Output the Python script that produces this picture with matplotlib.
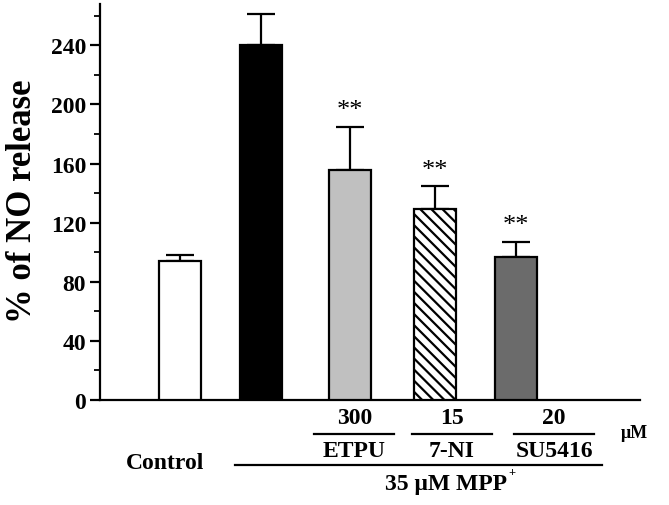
import matplotlib.pyplot as plt
import numpy as np
from matplotlib.ticker import MultipleLocator

plt.rcParams['font.family'] = ['Liberation Serif', 'DejaVu Serif']
plt.rcParams['font.weight'] = 'bold'
plt.rcParams['hatch.linewidth'] = 1.6

groups = ["Control", "MPP+", "ETPU", "7-NI", "SU5416"]
means = [94, 240, 155.5, 129.5, 97]
errors = [4, 21, 29.5, 15, 10]
stars = ["", "", "**", "**", "**"]
doses = ["", "", "300", "15", "20"]
colors = ["white", "black", "#c0c0c0", "white", "#6b6b6b"]
hatches = [None, None, None, "\\\\\\", None]

xpos = np.array([1.0, 1.95, 3.0, 4.0, 4.95])

fig = plt.figure(figsize=(6.69, 5.06), dpi=100)
ax = fig.add_axes([0.1495, 0.2075, 0.807, 0.7826])

bars = ax.bar(xpos, means, width=0.49, color=colors, edgecolor="black",
              linewidth=1.6, zorder=3)
for b, h in zip(bars, hatches):
    if h:
        b.set_hatch(h)
ax.errorbar(xpos, means, yerr=[np.zeros(5), errors], fmt="none", ecolor="black",
            elinewidth=1.6, capsize=10, capthick=1.6, zorder=2)

for x, m, e, s in zip(xpos, means, errors, stars):
    if s:
        ax.text(x, m + e + 4, s, ha="center", va="bottom", fontsize=19,
                fontweight="normal")

ax.set_xlim(0.06, 6.41)
ax.set_ylim(0, 268)
ax.yaxis.set_major_locator(MultipleLocator(40))
ax.yaxis.set_minor_locator(MultipleLocator(20))
ax.tick_params(axis="y", which="major", length=7, width=1.6, labelsize=17, pad=3)
ax.tick_params(axis="y", which="minor", length=4, width=1.3)
ax.tick_params(axis="x", bottom=False, labelbottom=False)
for sp in ["top", "right"]:
    ax.spines[sp].set_visible(False)
ax.spines["left"].set_linewidth(1.6)
ax.spines["bottom"].set_linewidth(1.6)

# y label placed by hand (centre ~22 px from the left edge)
ax.text(-78 / 540.0, 0.505, "% of NO release", transform=ax.transAxes,
        rotation=90, ha="center", va="center", fontsize=25, fontweight="bold")

# bottom annotations: x in data, y in axes fraction
tr = ax.get_xaxis_transform()
def fy(py):
    return (401 - py) / 396.0

def fx(px):
    return (px - 95) / 85.0

label_x = [None, None, 3.05, 4.2, 5.4]
for x, d, g in zip(label_x, doses, groups):
    if x is None:
        continue
    ax.text(x, fy(418), d, transform=tr, ha="center", va="center", fontsize=17)
    ax.plot([x - 0.47, x + 0.47], [fy(435), fy(435)], transform=tr, color="black",
            lw=1.6, clip_on=False)
    ax.text(x, fy(451), g, transform=tr, ha="center", va="center", fontsize=17)

ax.text(6.35, fy(433), "μM", transform=tr, ha="center", va="center", fontsize=13)
ax.text(0.82, fy(463), "Control", transform=tr, ha="center", va="center", fontsize=17)
ax.plot([1.65, 5.97], [fy(466), fy(466)], transform=tr, color="black", lw=1.6,
        clip_on=False)
ax.text(fx(507), fy(484), "35 μM MPP", transform=tr, ha="right",
        va="center", fontsize=17)
ax.text(fx(508), fy(473), "+", transform=tr, ha="left", va="center",
        fontsize=9)

fig.savefig("out.png", dpi=100)
